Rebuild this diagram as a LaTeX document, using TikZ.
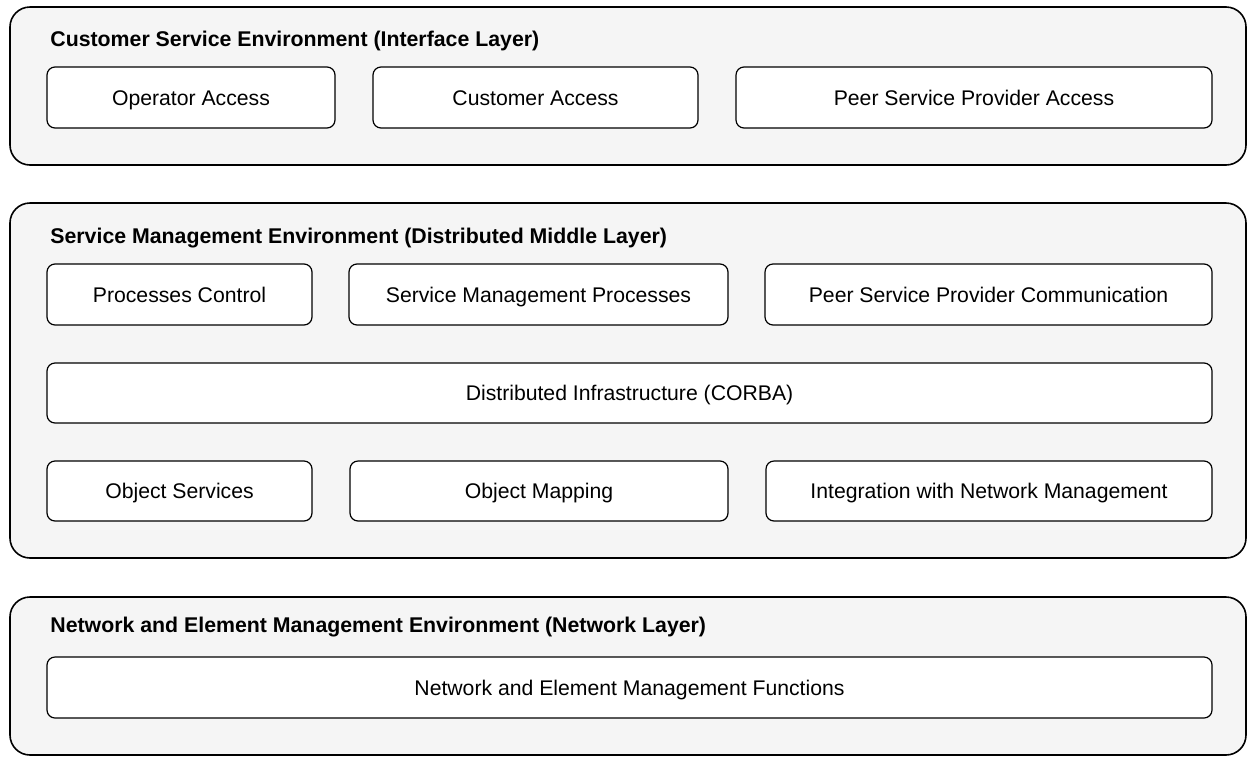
\documentclass[tikz,border=0pt]{standalone}
\usepackage{fontspec}
\setmainfont{Liberation Sans}
\usepackage{tikz}
\usetikzlibrary{positioning,calc}
\definecolor{layerbg}{HTML}{F5F5F5}

\begin{document}
\begin{tikzpicture}[
    x=0.5pt, y=-0.5pt,
    layer/.style={rectangle, draw, line width=0.8pt, rounded corners=10pt, fill=layerbg, inner sep=0pt, outer sep=0pt},
    block/.style={rectangle, draw, line width=0.6pt, rounded corners=4pt, fill=white, inner sep=0pt, outer sep=0pt,
        align=center, font=\fontsize{10.6}{12}\selectfont, text height=7.5pt, text depth=0pt},
    title/.style={anchor=base west, inner sep=0pt, font=\fontsize{10.65}{12}\selectfont\bfseries}
]
    \useasboundingbox (0,0) rectangle (1247,756);

    % Layers
    \foreach \nm/\xa/\xb/\ya/\yb in {csenv/10/1246/7/165, smenv/10/1246/203/558, neenv/10/1246/597/755} {
        \node[layer, minimum width={(\xb-\xa)*0.5pt}, minimum height={(\yb-\ya)*0.5pt}] (\nm) at ({(\xa+\xb)/2},{(\ya+\yb)/2}) {};
    }

    \node[title] (cstitle) at (50,46) {Customer Service Environment (Interface Layer)};
    \node[title] (smtitle) at (50,243) {Service Management Environment (Distributed Middle Layer)};
    \node[title] (netitle) at (50,632) {Network and Element Management Environment (Network Layer)};

    % Blocks
    \foreach \nm/\xa/\xb/\ya/\yb/\txt in {
        opacc/47/335/67/128/Operator Access,
        cusacc/373/698/67/128/Customer Access,
        peeracc/736/1212/67/128/Peer Service Provider Access,
        proctl/47/312/264/325/Processes Control,
        smproc/349/728/264/325/Service Management Processes,
        peercom/765/1212/264/325/Peer Service Provider Communication,
        corba/47/1212/363/423/Distributed Infrastructure (CORBA),
        objsrv/47/312/461/521/Object Services,
        objmap/350/728/461/521/Object Mapping,
        netint/766/1212/461/521/Integration with Network Management,
        nefunc/47/1212/657/718/Network and Element Management Functions} {
        \node[block, minimum width={(\xb-\xa)*0.5pt}, minimum height={(\yb-\ya)*0.5pt}] (\nm) at ({(\xa+\xb)/2},{(\ya+\yb)/2}) {\txt};
    }

\end{tikzpicture}
\end{document}
